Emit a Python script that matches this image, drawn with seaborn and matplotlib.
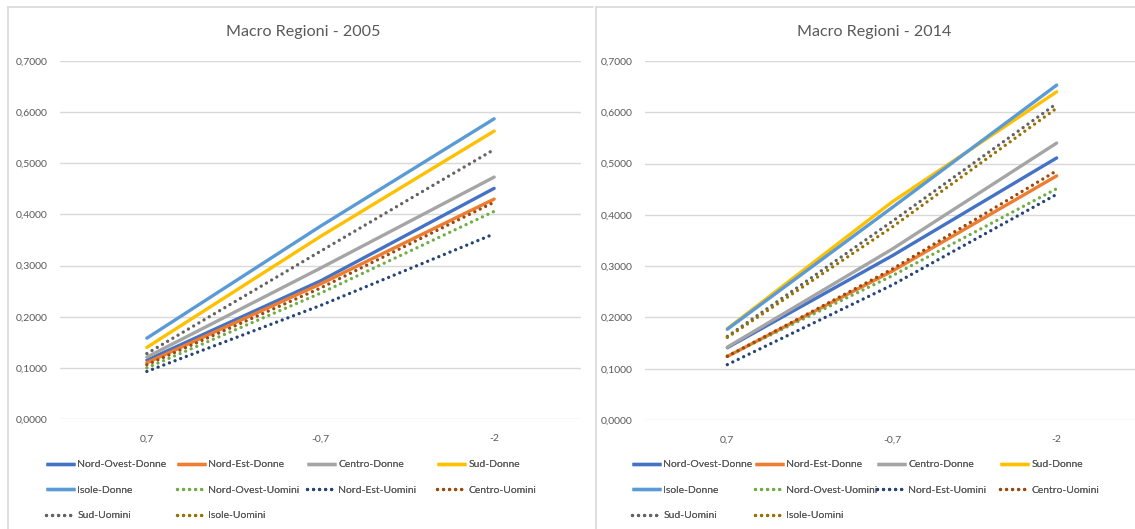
import numpy as np
import pandas as pd
import seaborn as sns
import matplotlib
matplotlib.use("Agg")
import matplotlib.pyplot as plt
from matplotlib.lines import Line2D
from matplotlib.ticker import FuncFormatter

# ---- data -------------------------------------------------------------
categories = ["0,7", "-0,7", "-2"]

series_names = [
    "Nord-Ovest-Donne", "Nord-Est-Donne", "Centro-Donne", "Sud-Donne", "Isole-Donne",
    "Nord-Ovest-Uomini", "Nord-Est-Uomini", "Centro-Uomini", "Sud-Uomini", "Isole-Uomini",
]
series_colors = [
    "#4472C4", "#ED7D31", "#A5A5A5", "#FFC000", "#5B9BD5",
    "#70AD47", "#264478", "#9E480E", "#636363", "#997300",
]
series_dotted = [False] * 5 + [True] * 5

# 2005
nord_ovest_donne_2005 = [0.115, 0.270, 0.451]
nord_est_donne_2005 = [0.110, 0.264, 0.430]
centro_donne_2005 = [0.121, 0.295, 0.473]
sud_donne_2005 = [0.140, 0.357, 0.563]
isole_donne_2005 = [0.158, 0.377, 0.587]
nord_ovest_uomini_2005 = [0.100, 0.246, 0.406]
nord_est_uomini_2005 = [0.093, 0.222, 0.362]
centro_uomini_2005 = [0.106, 0.256, 0.424]
sud_uomini_2005 = [0.128, 0.328, 0.527]
isole_uomini_2005 = [np.nan, np.nan, np.nan]

# 2014
nord_ovest_donne_2014 = [0.141, 0.320, 0.511]
nord_est_donne_2014 = [0.124, 0.290, 0.476]
centro_donne_2014 = [0.142, 0.333, 0.540]
sud_donne_2014 = [0.178, 0.425, 0.640]
isole_donne_2014 = [0.177, 0.414, 0.653]
nord_ovest_uomini_2014 = [0.125, 0.281, 0.451]
nord_est_uomini_2014 = [0.108, 0.263, 0.440]
centro_uomini_2014 = [0.124, 0.294, 0.486]
sud_uomini_2014 = [0.163, 0.387, 0.617]
isole_uomini_2014 = [0.161, 0.376, 0.608]

values_2005 = [
    nord_ovest_donne_2005, nord_est_donne_2005, centro_donne_2005, sud_donne_2005,
    isole_donne_2005, nord_ovest_uomini_2005, nord_est_uomini_2005,
    centro_uomini_2005, sud_uomini_2005, isole_uomini_2005,
]
values_2014 = [
    nord_ovest_donne_2014, nord_est_donne_2014, centro_donne_2014, sud_donne_2014,
    isole_donne_2014, nord_ovest_uomini_2014, nord_est_uomini_2014,
    centro_uomini_2014, sud_uomini_2014, isole_uomini_2014,
]

# ---- style ------------------------------------------------------------
sns.set_style("white")
plt.rcParams["font.family"] = ["Lato", "DejaVu Sans"]
TEXT_COLOR = "#595959"
GRID_COLOR = "#D9D9D9"
LW = 2.4
DOT = (0, (0.01, 1.8))
SMALL = 7.5

W, H = 1135, 529
fig = plt.figure(figsize=(W / 100, H / 100), dpi=100)
fig.patch.set_facecolor("white")


def fx(px):
    return px / W


def fy(py):
    return 1 - py / H


def long_frame(values):
    rows = []
    for name, vals in zip(series_names, values):
        for cat, v in zip(categories, vals):
            rows.append({"serie": name, "x": cat, "y": v})
    return pd.DataFrame(rows)


def draw_panel(rect, values, title, title_x, legend_cols_x):
    ax = fig.add_axes(rect)
    df = long_frame(values)
    for name, color, dotted in zip(series_names, series_colors, series_dotted):
        d = df[df["serie"] == name].dropna()
        if d.empty:
            continue
        sns.lineplot(
            data=d, x="x", y="y", ax=ax, color=color, lw=LW, sort=False,
            legend=False, errorbar=None,
            linestyle=DOT if dotted else "-",
            dash_capstyle="round", solid_capstyle="round",
        )
    ax.set_xlim(-0.5, 2.5)
    ax.set_ylim(0, 0.7)
    ax.set_yticks(np.arange(0, 0.71, 0.1))
    ax.yaxis.set_major_formatter(FuncFormatter(lambda v, p: f"{v:.4f}".replace(".", ",")))
    ax.set_xlabel("")
    ax.set_ylabel("")
    ax.grid(axis="y", color=GRID_COLOR, lw=1)
    ax.grid(axis="x", visible=False)
    ax.set_axisbelow(True)
    for s in ax.spines.values():
        s.set_visible(False)
    ax.tick_params(axis="both", length=0, labelsize=SMALL, colors=TEXT_COLOR)
    ax.tick_params(axis="y", pad=9)
    ax.tick_params(axis="x", pad=11)

    fig.text(fx(title_x), fy(32), title, ha="center", va="center",
             fontsize=11.6, color=TEXT_COLOR)

    handles = [
        Line2D([], [], color=c, lw=LW, linestyle=DOT if dt else "-",
               dash_capstyle="round", solid_capstyle="butt")
        for c, dt in zip(series_colors, series_dotted)
    ]
    for col, x0 in enumerate(legend_cols_x):
        idx = list(range(col, len(series_names), 4))
        leg = fig.legend(
            [handles[i] for i in idx], [series_names[i] for i in idx],
            loc="upper left", bbox_to_anchor=(fx(x0), fy(460)),
            frameon=False, fontsize=SMALL, labelcolor=TEXT_COLOR,
            handlelength=2.75, handletextpad=0.25, borderpad=0,
            borderaxespad=0, labelspacing=1.55,
        )
        fig.add_artist(leg)
    return ax


draw_panel([fx(60), fy(419), fx(521), (419 - 61) / H], values_2005,
           "Macro Regioni - 2005", 303, [46, 177, 307, 437])
draw_panel([fx(645), fy(420), fx(494), (420 - 61) / H], values_2014,
           "Macro Regioni - 2014", 874, [632, 755, 877, 1000])

# chart frames
for x0, x1 in [(8, 593), (596, W)]:
    fig.add_artist(Line2D([fx(x0), fx(x0)], [fy(7), 0], color=GRID_COLOR, lw=1.2))
    fig.add_artist(Line2D([fx(x0), fx(x1)], [fy(7), fy(7)], color=GRID_COLOR, lw=1.2))

fig.savefig("out.png", dpi=100, facecolor="white")
